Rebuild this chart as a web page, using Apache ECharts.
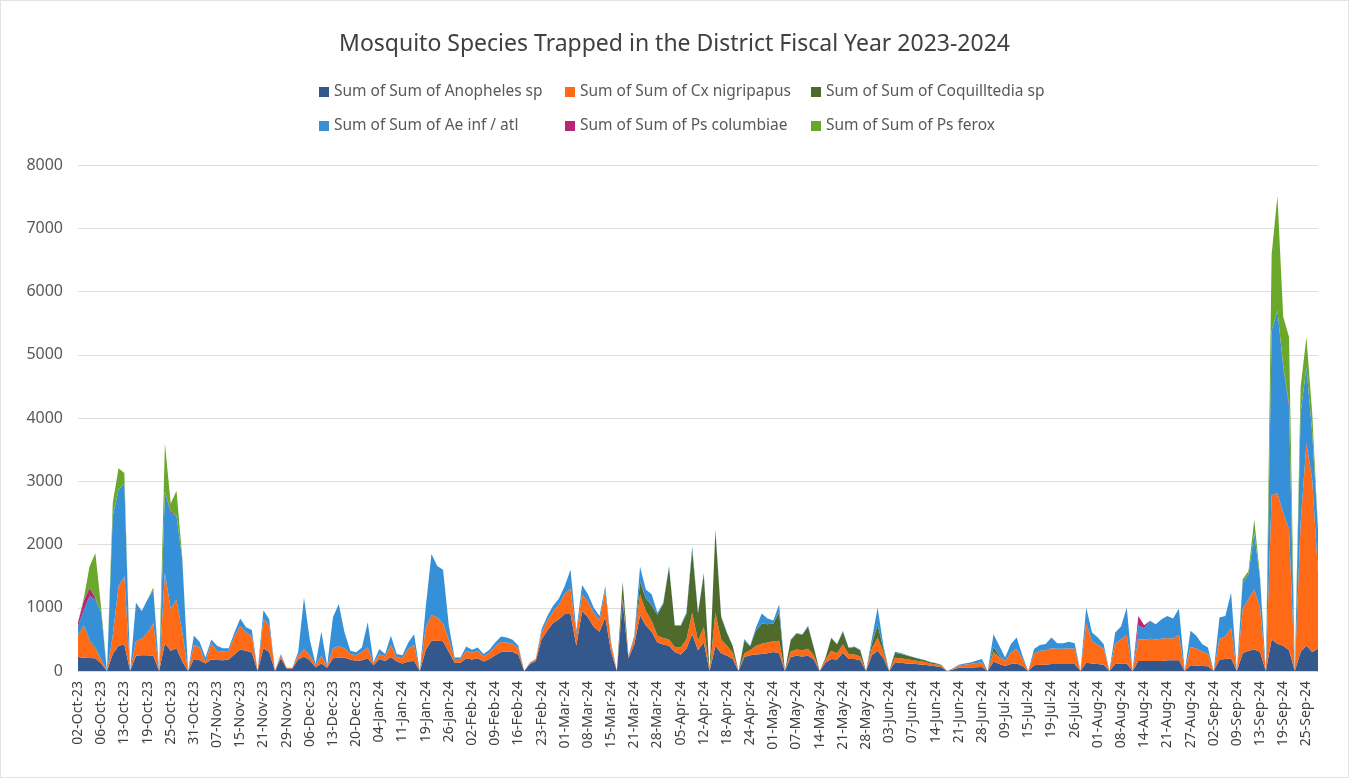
<!DOCTYPE html>
<html>
<head>
<meta charset="utf-8">
<title>Mosquito Species Trapped</title>
<script src="https://cdn.jsdelivr.net/npm/echarts@6/dist/echarts.min.js"></script>
<style>
  html, body { margin: 0; padding: 0; background: #fff; }
  #chart { width: 1349px; height: 778px; box-sizing: border-box; border: 1px solid #e2e2e2; }
</style>
</head>
<body>
<div id="chart"></div>
<script>
// trap dates (every 4th one is labelled on the axis)
var dates = ('02-Oct-23 03-Oct-23 04-Oct-23 05-Oct-23 06-Oct-23 09-Oct-23 10-Oct-23 11-Oct-23 ' +
  '13-Oct-23 16-Oct-23 17-Oct-23 18-Oct-23 19-Oct-23 20-Oct-23 23-Oct-23 24-Oct-23 ' +
  '25-Oct-23 26-Oct-23 27-Oct-23 30-Oct-23 31-Oct-23 01-Nov-23 02-Nov-23 06-Nov-23 ' +
  '07-Nov-23 08-Nov-23 09-Nov-23 14-Nov-23 15-Nov-23 16-Nov-23 17-Nov-23 20-Nov-23 ' +
  '21-Nov-23 22-Nov-23 27-Nov-23 28-Nov-23 29-Nov-23 30-Nov-23 01-Dec-23 05-Dec-23 ' +
  '06-Dec-23 07-Dec-23 08-Dec-23 12-Dec-23 13-Dec-23 14-Dec-23 15-Dec-23 19-Dec-23 ' +
  '20-Dec-23 21-Dec-23 22-Dec-23 03-Jan-24 04-Jan-24 05-Jan-24 09-Jan-24 10-Jan-24 ' +
  '11-Jan-24 12-Jan-24 16-Jan-24 18-Jan-24 19-Jan-24 22-Jan-24 23-Jan-24 25-Jan-24 ' +
  '26-Jan-24 29-Jan-24 30-Jan-24 01-Feb-24 02-Feb-24 05-Feb-24 06-Feb-24 08-Feb-24 ' +
  '09-Feb-24 12-Feb-24 13-Feb-24 15-Feb-24 16-Feb-24 20-Feb-24 21-Feb-24 22-Feb-24 ' +
  '23-Feb-24 26-Feb-24 27-Feb-24 29-Feb-24 01-Mar-24 05-Mar-24 06-Mar-24 07-Mar-24 ' +
  '08-Mar-24 12-Mar-24 13-Mar-24 14-Mar-24 15-Mar-24 18-Mar-24 19-Mar-24 20-Mar-24 ' +
  '21-Mar-24 22-Mar-24 26-Mar-24 27-Mar-24 28-Mar-24 01-Apr-24 03-Apr-24 04-Apr-24 ' +
  '05-Apr-24 09-Apr-24 10-Apr-24 11-Apr-24 12-Apr-24 15-Apr-24 16-Apr-24 17-Apr-24 ' +
  '18-Apr-24 19-Apr-24 22-Apr-24 23-Apr-24 24-Apr-24 25-Apr-24 29-Apr-24 30-Apr-24 ' +
  '01-May-24 02-May-24 03-May-24 06-May-24 07-May-24 08-May-24 09-May-24 13-May-24 ' +
  '14-May-24 15-May-24 16-May-24 20-May-24 21-May-24 22-May-24 23-May-24 24-May-24 ' +
  '28-May-24 29-May-24 30-May-24 31-May-24 03-Jun-24 04-Jun-24 05-Jun-24 06-Jun-24 ' +
  '07-Jun-24 11-Jun-24 12-Jun-24 13-Jun-24 14-Jun-24 17-Jun-24 18-Jun-24 20-Jun-24 ' +
  '21-Jun-24 25-Jun-24 26-Jun-24 27-Jun-24 28-Jun-24 02-Jul-24 03-Jul-24 08-Jul-24 ' +
  '09-Jul-24 10-Jul-24 11-Jul-24 12-Jul-24 15-Jul-24 16-Jul-24 17-Jul-24 18-Jul-24 ' +
  '19-Jul-24 23-Jul-24 24-Jul-24 25-Jul-24 26-Jul-24 29-Jul-24 30-Jul-24 31-Jul-24 ' +
  '01-Aug-24 05-Aug-24 06-Aug-24 07-Aug-24 08-Aug-24 09-Aug-24 12-Aug-24 13-Aug-24 ' +
  '14-Aug-24 15-Aug-24 19-Aug-24 20-Aug-24 21-Aug-24 22-Aug-24 23-Aug-24 26-Aug-24 ' +
  '27-Aug-24 28-Aug-24 29-Aug-24 30-Aug-24 02-Sep-24 03-Sep-24 05-Sep-24 06-Sep-24 ' +
  '09-Sep-24 10-Sep-24 11-Sep-24 12-Sep-24 13-Sep-24 16-Sep-24 17-Sep-24 18-Sep-24 ' +
  '19-Sep-24 20-Sep-24 23-Sep-24 24-Sep-24 25-Sep-24 26-Sep-24 27-Sep-24').split(' ');

var anopheles = [
  220,210,205,200, 120,0,270,400, 420,0,240,250, 250,240,0,440,
  320,360,150,0, 190,170,120,180, 175,170,180,260, 340,320,290,0,
  360,300,0,200, 40,40,180,230, 170,60,120,50, 200,210,210,180,
  160,170,200,90, 190,160,220,150, 120,150,160,0, 330,480,480,470,
  300,130,130,200, 180,200,150,190, 250,300,310,300, 260,0,110,160,
  500,640,760,820, 900,900,400,950, 850,700,620,850, 300,0,1100,200,
  420,880,720,620, 450,420,400,300, 260,350,580,330, 450,0,400,280,
  240,190,0,220, 250,260,270,280, 300,280,0,220, 240,230,240,180,
  0,130,190,180, 290,190,190,170, 0,250,320,200, 0,140,130,120,
  115,105,100,85, 75,60,0,25, 50,55,55,60, 65,0,150,110,
  80,110,120,80, 0,90,100,100, 110,110,110,110, 110,0,130,120,
  110,100,0,110, 120,120,0,160, 160,160,160,160, 170,170,170,0,
  90,85,80,75, 0,180,190,200, 0,280,320,340, 300,0,500,430,
  400,330,0,300, 400,300,350
];
var cxNigripalpus = [
  330,500,270,150, 60,0,290,945, 1080,0,230,260, 350,520,0,1110,
  660,770,460,0, 220,200,20,260, 140,140,140,290, 370,290,260,0,
  460,420,0,50, 10,10,60,115, 80,30,120,20, 160,180,150,90,
  90,130,170,30, 80,70,190,70, 80,200,250,0, 350,400,370,280,
  200,60,60,120, 110,120,80,100, 140,160,140,130, 100,0,20,25,
  110,160,180,230, 320,400,180,260, 250,220,180,430, 120,0,50,30,
  100,330,230,170, 110,100,100,80, 110,150,340,150, 250,0,520,220,
  160,100,0,60, 80,140,160,170, 170,200,0,90, 100,100,110,70,
  0,50,130,100, 130,80,70,60, 0,100,210,100, 0,70,70,65,
  60,55,45,35, 30,25,0,12, 35,45,55,65, 70,0,150,110,
  80,180,230,110, 0,180,220,230, 250,240,240,250, 240,0,630,350,
  300,250,0,330, 380,450,0,340, 340,350,340,350, 350,340,400,0,
  290,270,230,200, 0,330,360,480, 0,700,820,950, 700,0,2280,2380,
  2100,1910,0,2040, 3200,2730,1200
];
var coquillettidia = [
  20,20,20,20, 10,0,0,0, 0,0,0,0, 0,0,0,0,
  0,0,0,0, 0,0,0,0, 0,0,0,0, 0,0,0,0,
  0,0,0,0, 0,0,0,0, 0,0,0,0, 0,0,0,0,
  0,0,0,0, 0,0,0,0, 0,0,0,0, 0,0,0,0,
  0,0,0,0, 0,0,0,0, 0,0,0,0, 0,0,0,0,
  0,0,0,0, 0,0,0,0, 0,0,0,0, 0,0,250,0,
  0,200,200,250, 330,540,1140,330, 340,400,1000,430, 830,0,1300,350,
  200,100,0,200, 60,240,320,290, 280,450,0,180, 250,243,350,115,
  0,30,200,140, 200,95,120,100, 0,80,200,50, 0,80,70,60,
  45,35,28,22, 16,10,0,0, 0,0,0,0, 0,0,80,20,
  0,0,0,0, 0,0,0,0, 0,0,0,0, 0,0,0,0,
  0,0,0,0, 0,0,0,0, 0,0,0,0, 0,0,0,0,
  0,0,0,0, 0,0,0,0, 0,0,0,0, 0,0,0,0,
  0,0,0,0, 0,0,0
];
var aeInfAtl = [
  140,230,690,760, 730,0,1890,1520, 1470,0,610,440, 530,520,0,1290,
  1520,1320,1150,0, 150,90,75,60, 85,50,40,60, 120,80,100,0,
  140,100,0,20, 0,0,60,815, 250,20,385,15, 490,670,250,50,
  45,70,400,20, 76,38,146,48, 50,100,170,0, 320,970,810,850,
  214,25,25,68, 46,53,38,46, 60,86,80,63, 40,0,6,5,
  50,70,90,95, 124,300,55,150, 113,83,70,64, 30,0,20,10,
  36,240,140,173, 30,20,20,15, 15,24,54,14, 24,0,27,20,
  9,10,0,24, 10,48,158,90, 50,120,0,10, 10,10,14,8,
  0,5,10,5, 15,8,8,6, 0,74,273,50, 0,15,13,7,
  6,5,5,5, 5,5,0,5, 15,20,26,38, 55,0,203,160,
  55,135,180,50, 0,76,90,95, 170,90,90,102, 90,0,243,139,
  120,75,0,169, 203,433,0,221, 174,283,240,309, 351,320,417,0,
  255,201,115,98, 0,335,320,559, 0,420,390,894, 450,0,2600,2890,
  2310,1940,0,1730, 1210,735,700
];
var psColumbiae = [
  60,150,130,30, 0,0,0,0, 0,0,0,0, 0,0,0,0,
  30,0,0,0, 0,0,0,0, 0,0,0,0, 0,0,0,0,
  0,0,0,0, 0,0,0,0, 0,0,0,0, 0,0,0,0,
  0,0,0,0, 0,0,0,0, 0,0,0,0, 0,0,0,0,
  0,0,0,0, 0,0,0,0, 0,0,0,0, 0,0,0,0,
  0,0,0,0, 0,0,0,0, 0,0,0,0, 0,0,0,0,
  0,0,0,0, 0,0,0,0, 0,0,0,0, 0,0,0,0,
  0,0,0,0, 0,0,0,0, 0,0,0,0, 0,0,0,0,
  0,0,0,0, 0,0,0,0, 0,0,0,0, 0,0,0,0,
  0,0,0,0, 0,0,0,0, 0,0,0,0, 0,0,0,0,
  0,0,0,0, 0,0,0,0, 0,0,0,0, 0,0,0,0,
  0,0,0,0, 0,0,0,150, 50,0,0,0, 0,0,0,0,
  0,0,0,0, 0,0,0,0, 0,0,0,0, 0,0,0,0,
  20,50,0,0, 0,0,0
];
var psFerox = [
  0,40,340,700, 80,0,210,340, 160,0,0,0, 0,40,0,760,
  120,400,30,0, 0,0,0,0, 0,0,0,0, 0,0,0,0,
  0,0,0,0, 0,0,0,0, 0,0,0,0, 0,0,0,0,
  0,0,0,0, 0,0,0,0, 0,0,0,0, 0,0,0,0,
  0,0,0,0, 0,0,0,0, 0,0,0,0, 0,0,0,0,
  0,0,0,0, 0,0,0,0, 0,0,0,0, 0,0,0,0,
  0,0,0,0, 0,0,0,0, 0,0,0,0, 0,0,0,0,
  0,0,0,0, 0,0,0,0, 0,0,0,0, 0,0,0,0,
  0,0,0,0, 0,0,0,0, 0,0,0,0, 0,0,0,0,
  0,0,0,0, 0,0,0,0, 0,0,0,0, 0,0,0,0,
  0,0,0,0, 0,0,0,0, 0,0,0,0, 0,0,0,0,
  0,0,0,0, 0,0,0,0, 0,0,0,0, 0,0,0,0,
  0,0,0,0, 0,0,0,0, 0,50,50,210, 50,0,1210,1810,
  770,1050,0,420, 470,310,0
];

var seriesNames = [
  'Sum of Sum of Anopheles sp', 'Sum of Sum of Cx nigripapus', 'Sum of Sum of Coquilltedia sp',
  'Sum of Sum of Ae inf / atl', 'Sum of Sum of Ps columbiae', 'Sum of Sum of Ps ferox'
];
var seriesData = [anopheles, cxNigripalpus, coquillettidia, aeInfAtl, psColumbiae, psFerox];
var colors = ['#34578c', '#ff6a17', '#4e6b2c', '#3590d8', '#b82678', '#6aa82c'];

seriesData.forEach(function (arr, k) {
  if (arr.length !== dates.length) console.warn(seriesNames[k], arr.length, dates.length);
});

var chart = echarts.init(document.getElementById('chart'));

var font = "'Noto Sans', 'Open Sans', sans-serif";

// legend laid out as two rows of three columns
var legendCols = [313, 559, 805];
var legends = seriesNames.map(function (name, k) {
  return {
    data: [name],
    left: legendCols[k % 3],
    top: k < 3 ? 78 : 112,
    icon: 'rect',
    itemWidth: 10,
    itemHeight: 10,
    itemGap: 0,
    textStyle: { fontSize: 15.5, color: '#595959', fontFamily: font },
    selectedMode: false
  };
});

var series = seriesNames.map(function (name, k) {
  return {
    name: name,
    type: 'line',
    stack: 'total',
    data: seriesData[k],
    symbol: 'none',
    showSymbol: false,
    lineStyle: { width: 0 },
    areaStyle: { color: colors[k], opacity: 1 },
    itemStyle: { color: colors[k] },
    emphasis: { disabled: true },
    animation: false
  };
});

chart.setOption({
  animation: false,
  color: colors,
  title: {
    text: 'Mosquito Species Trapped in the District Fiscal Year 2023-2024',
    left: 'center',
    top: 27,
    textStyle: { fontSize: 23, fontWeight: 'normal', color: '#404040', fontFamily: font }
  },
  legend: legends,
  grid: {
    left: 77, right: 30, top: 164, bottom: 106,
    containLabel: false,
    outerBoundsMode: 'none'
  },
  xAxis: {
    type: 'category',
    data: dates,
    boundaryGap: false,
    axisLine: { lineStyle: { color: '#d9d9d9' } },
    axisTick: { show: false },
    axisLabel: {
      interval: 3,
      rotate: 90,
      fontSize: 14,
      color: '#404040',
      fontFamily: font,
      margin: 10
    }
  },
  yAxis: {
    type: 'value',
    min: 0,
    max: 8000,
    interval: 1000,
    axisLine: { show: false },
    axisTick: { show: false },
    axisLabel: {
      fontSize: 16, color: '#595959', fontFamily: font, margin: 15,
      formatter: function (v) { return String(v); }
    },
    splitLine: { lineStyle: { color: '#dedede' } }
  },
  series: series
});
</script>
</body>
</html>
